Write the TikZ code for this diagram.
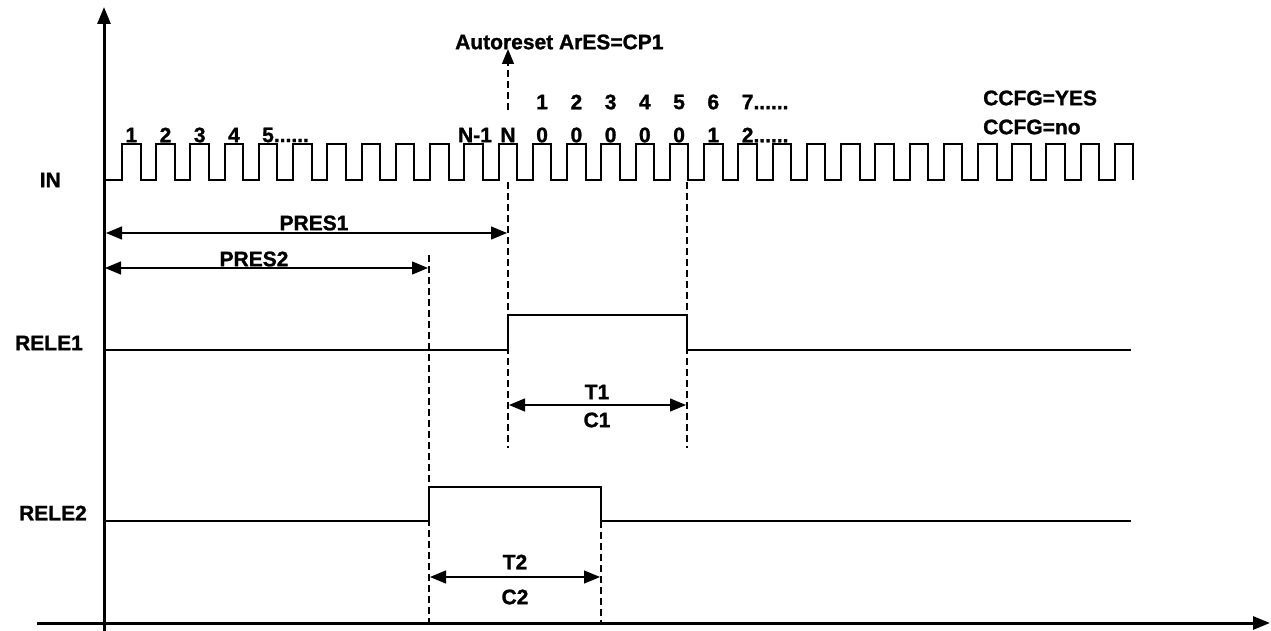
\documentclass[tikz,border=0pt]{standalone}
\usepackage{fontspec}
\setmainfont{Liberation Sans}[BoldFeatures={FakeBold=1.2}]
\usetikzlibrary{arrows.meta}
\begin{document}
\begin{tikzpicture}[x=1pt,y=-1pt,
  lbl/.style={font=\fontsize{21}{25}\selectfont\bfseries, inner sep=0pt},
  axisline/.style={line width=3pt, -{Triangle[length=17pt,width=13pt]}},
  sig/.style={line width=2pt, line join=miter},
  guide/.style={line width=1.6pt, dash pattern=on 7pt off 4pt},
  dim/.style={line width=1.3pt, {Triangle[length=16pt,width=13pt]}-{Triangle[length=16pt,width=13pt]}}]
\useasboundingbox (0,0) rectangle (1271,631);
% axes
\coordinate (xs) at (37,623); \coordinate (xe) at (1270,623);
\coordinate (ys) at (104,631); \coordinate (ye) at (104,7);
\draw[axisline] (xs) -- (xe);
\draw[axisline] (ys) -- (ye);
% IN signal
\draw[sig] (104,180) \foreach \k in {0,...,29}{ -- ({122+\k*34.24},180) -- ++(0,-36) -- ++(18.5,0) -- ++(0,36) };
% RELE1 / RELE2
\coordinate (r1a) at (508,350); \coordinate (r1b) at (687,350);
\coordinate (r2a) at (429,521); \coordinate (r2b) at (601,521);
\draw[sig] (104,350) -- (r1a) -- (508,315) -- (687,315) -- (r1b) -- (1131,350);
\draw[sig] (104,521) -- (r2a) -- (429,487) -- (601,487) -- (r2b) -- (1131,521);
% guides
\coordinate (g1t) at (508,182); \coordinate (g1b) at (508,448);
\coordinate (g2t) at (687,182); \coordinate (g2b) at (687,448);
\coordinate (g3t) at (429,255); \coordinate (g3b) at (429,623);
\coordinate (g4b) at (601,623);
\draw[guide] (g1t) -- (g1b);
\draw[guide] (g2t) -- (g2b);
\draw[guide] (g3t) -- (g3b);
\draw[guide] (r2b) -- (g4b);
% autoreset
\node[lbl, anchor=west] (auto) at (455,42) {Autoreset ArES=CP1};
\coordinate (autob) at (508,110);
\draw[guide, -{Triangle[length=15pt,width=12pt]}] (autob) -- (508,49);
% dimensions
\coordinate (p1a) at (106,233); \coordinate (p1b) at (507,233);
\coordinate (p2a) at (105,268); \coordinate (p2b) at (428,268);
\coordinate (t1a) at (509,405); \coordinate (t1b) at (686,405);
\coordinate (t2a) at (430,577); \coordinate (t2b) at (600,577);
\draw[dim] (p1a) -- (p1b);
\draw[dim] (p2a) -- (p2b);
\draw[dim] (t1a) -- (t1b);
\draw[dim] (t2a) -- (t2b);
\node[lbl] (pres1) at (314,223) {PRES1};
\node[lbl] (pres2) at (254,259) {PRES2};
\node[lbl] (T1) at (597,392) {T1};
\node[lbl] (C1) at (597,420) {C1};
\node[lbl] (T2) at (515,562) {T2};
\node[lbl] (C2) at (515,597) {C2};
% signal names
\node[lbl, anchor=east] (in) at (61,180) {IN};
\node[lbl, anchor=east] (rele1) at (83,343) {RELE1};
\node[lbl, anchor=east] (rele2) at (87,513) {RELE2};
% pulse counts
\node[lbl] (a1) at (131.3,135) {1};
\node[lbl] (a2) at (165.5,135) {2};
\node[lbl] (a3) at (199.7,135) {3};
\node[lbl] (a4) at (234,135) {4};
\node[lbl, anchor=west] (a5) at (262,135) {5......};
\node[lbl] (anm) at (475,135) {N-1};
\node[lbl] (an) at (508,135) {N};
\node[lbl] (b1) at (542.1,102) {1};
\node[lbl] (b2) at (576.4,102) {2};
\node[lbl] (b3) at (610.6,102) {3};
\node[lbl] (b4) at (644.8,102) {4};
\node[lbl] (b5) at (679.1,102) {5};
\node[lbl] (b6) at (713.3,102) {6};
\node[lbl, anchor=west] (b7) at (741.6,102) {7......};
\node[lbl] (c1) at (542.1,135) {0};
\node[lbl] (c2) at (576.4,135) {0};
\node[lbl] (c3) at (610.6,135) {0};
\node[lbl] (c4) at (644.8,135) {0};
\node[lbl] (c5) at (679.1,135) {0};
\node[lbl] (c6) at (713.3,135) {1};
\node[lbl, anchor=west] (c7) at (741.6,135) {2......};
\node[lbl, anchor=west] (ccy) at (983,98) {CCFG=YES};
\node[lbl, anchor=west] (ccn) at (983,127) {CCFG=no};
\end{tikzpicture}
\end{document}
